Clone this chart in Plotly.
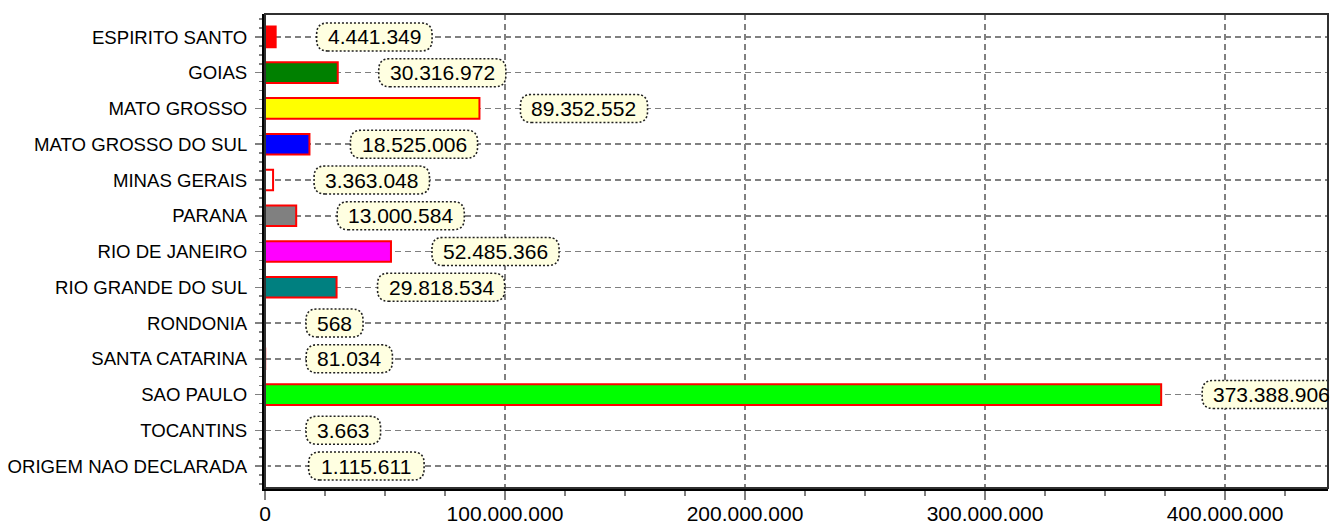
import plotly.graph_objects as go

categories = ["ESPIRITO SANTO", "GOIAS", "MATO GROSSO", "MATO GROSSO DO SUL", "MINAS GERAIS",
              "PARANA", "RIO DE JANEIRO", "RIO GRANDE DO SUL", "RONDONIA", "SANTA CATARINA",
              "SAO PAULO", "TOCANTINS", "ORIGEM NAO DECLARADA"]
values = [4441349, 30316972, 89352552, 18525006, 3363048, 13000584, 52485366, 29818534,
          568, 81034, 373388906, 3663, 1115611]
colors = ["#FF0000", "#008000", "#FFFF00", "#0000FF", "#FFFFFF", "#808080", "#FF00FF",
          "#008080", "#800000", "#000080", "#00FF00", "#808000", "#FFFFFF"]
edge_colors = ["#FF0000"] * 12 + ["rgba(0,0,0,0)"]
x_tickvals = [0, 100000000, 200000000, 300000000, 400000000]
x_ticktext = ["0", "100.000.000", "200.000.000", "300.000.000", "400.000.000"]

FONT = "Liberation Sans, Arial, sans-serif"
LBL_SIZE = 21

def fmt(v):
    return f"{v:,}".replace(",", ".")

idx = list(range(len(categories)))

fig = go.Figure()
fig.add_trace(go.Bar(
    x=values, y=idx, orientation="h", width=0.58,
    marker=dict(color=colors, line=dict(color=edge_colors, width=2)),
    hoverinfo="skip",
))

shapes = []
annotations = []
OFF = 41
H = 14
R = 11
for v, i in zip(values, idx):
    t = fmt(v)
    tw = sum(0.556 if c.isdigit() else 0.278 for c in t) * LBL_SIZE
    w = tw + 22
    L, Rr = OFF, OFF + w
    path = (f"M {L+R},{-H} L {Rr-R},{-H} Q {Rr},{-H} {Rr},{-H+R} L {Rr},{H-R} "
            f"Q {Rr},{H} {Rr-R},{H} L {L+R},{H} Q {L},{H} {L},{H-R} L {L},{-H+R} "
            f"Q {L},{-H} {L+R},{-H} Z")
    shapes.append(dict(type="path", xref="x", yref="y", xsizemode="pixel", ysizemode="pixel",
                       xanchor=v, yanchor=i, path=path, fillcolor="#FFFFE1",
                       line=dict(color="#202020", width=1.6, dash="2px,2px"), layer="above"))
    annotations.append(dict(x=v, y=i, xref="x", yref="y", text=t, showarrow=False,
                            xanchor="center", yanchor="middle", xshift=OFF + w / 2,
                            font=dict(family=FONT, size=LBL_SIZE, color="#000000")))

# plot border (top/right)
shapes.append(dict(type="rect", xref="paper", yref="paper", x0=0, x1=1, y0=0, y1=1,
                   line=dict(color="#303030", width=2), fillcolor="rgba(0,0,0,0)", layer="above"))

fig.update_layout(
    width=1342, height=528,
    margin=dict(l=265, r=14, t=14, b=40),
    paper_bgcolor="#FFFFFF", plot_bgcolor="#FFFFFF",
    showlegend=False, hovermode=False,
    shapes=shapes, annotations=annotations,
    font=dict(family=FONT, color="#000000"),
)
fig.update_xaxes(
    range=[0, 442900000], tickmode="array", tickvals=x_tickvals, ticktext=x_ticktext,
    tickfont=dict(family=FONT, size=21, color="#000000"),
    showgrid=True, gridcolor="#808080", griddash="6px,4px", gridwidth=1.5,
    showline=True, linecolor="#000000", linewidth=3,
    ticks="outside", ticklen=9, tickcolor="#808080", tickwidth=1.5,
    ticklabelstandoff=-4, automargin=False,
    minor=dict(dtick=25000000, tick0=0, ticks="outside", ticklen=5, tickcolor="#808080",
               tickwidth=1.5, showgrid=False),
    zeroline=False,
)
fig.update_yaxes(
    range=[12.615, -0.643], tickmode="array", tickvals=idx, ticktext=categories,
    tickfont=dict(family=FONT, size=18.6, color="#000000"),
    showgrid=True, gridcolor="#808080", griddash="6px,4px", gridwidth=1.5,
    showline=True, linecolor="#000000", linewidth=3,
    ticks="outside", ticklen=7, tickcolor="#808080", tickwidth=1.5,
    ticklabelstandoff=4, automargin=False,
    minor=dict(dtick=0.25, tick0=0, ticks="outside", ticklen=3, tickcolor="#808080",
               tickwidth=1.5, showgrid=False),
    zeroline=False,
)

fig.write_html("out.html", config={"displayModeBar": False, "staticPlot": True},
               post_script="document.body.style.margin='0';document.body.style.overflow='hidden';")
